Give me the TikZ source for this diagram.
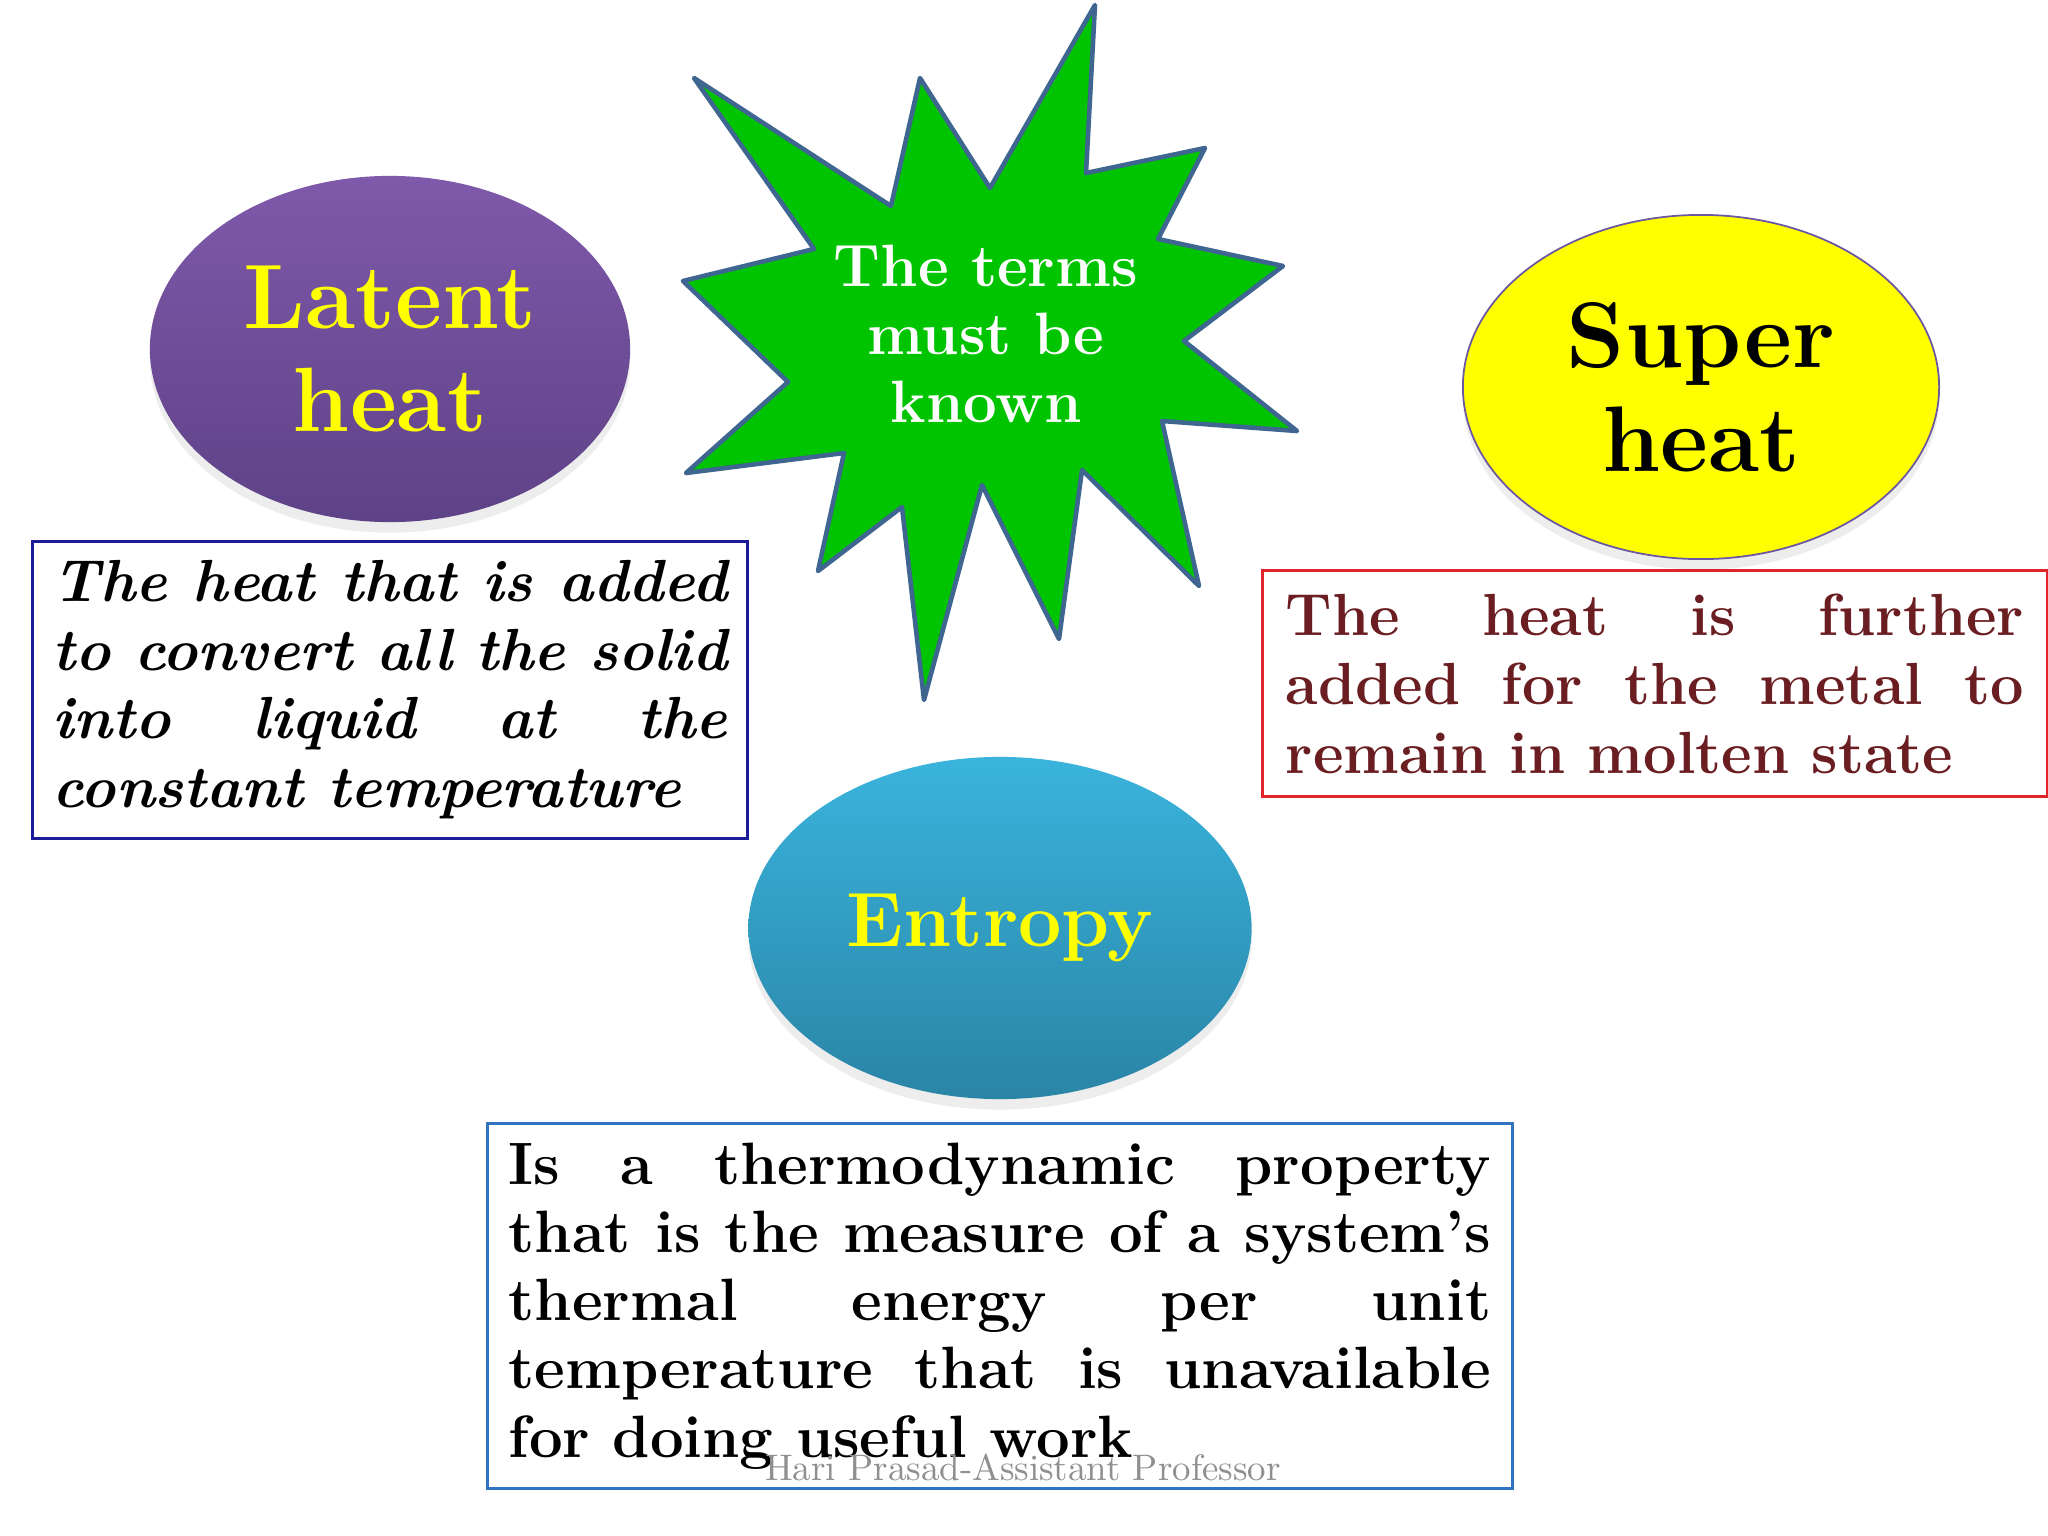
\documentclass[tikz,border=0pt]{standalone}
\usetikzlibrary{positioning,shapes.geometric,shadows}

\definecolor{burstgreen}{HTML}{00C400}
\definecolor{burstedge}{HTML}{3E6690}
\definecolor{latenttop}{HTML}{7F59AA}
\definecolor{latentbottom}{HTML}{5E4287}
\definecolor{entropytop}{HTML}{3AB4DD}
\definecolor{entropybottom}{HTML}{2A84A6}
\definecolor{titleyellow}{HTML}{FFFF00}
\definecolor{superedge}{HTML}{6C58A0}
\definecolor{latentline}{HTML}{1C1C96}
\definecolor{superline}{HTML}{E2232A}
\definecolor{entropyline}{HTML}{2F74C0}
\definecolor{defbrown}{HTML}{6B1E22}
\definecolor{footergray}{HTML}{8F8F8F}
\hbadness=10000

\begin{document}
\begin{tikzpicture}[x=0.01cm,y=-0.01cm,
    bubble/.style={ellipse,inner sep=0pt,align=center,
      drop shadow={shadow xshift=0pt,shadow yshift=-3pt,opacity=0.14}},
    defbox/.style={draw,line width=0.8pt,inner xsep=0.2cm,inner ysep=0pt,align=justify},
    burst/.style={fill=burstgreen,draw=burstedge,line width=1.3pt,line join=round}]
   \path[use as bounding box,fill=white] (0,0) rectangle (2048,1536);

   \draw[burst] (1095,5) -- (1086,173) -- (1205,148) -- (1158,239) -- (1283,266)
      -- (1184,341) -- (1297,431) -- (1162,421) -- (1199,586) -- (1082,470)
      -- (1059,639) -- (982,485) -- (924,700) -- (902,507) -- (818,571)
      -- (844,453) -- (686,473) -- (788,382) -- (683,281) -- (814,249)
      -- (694,78) -- (891,206) -- (920,78) -- (990,188) -- cycle;
   \node[text=white,align=center,font=\fontsize{17}{19.4}\selectfont\bfseries] (terms) at (986,334) {The terms\\must be\\known};

   \node[bubble,top color=latenttop,bottom color=latentbottom,minimum width=4.8cm,minimum height=3.46cm,
      text=titleyellow,font=\fontsize{26}{29.5}\selectfont\bfseries] (latent) at (390,349) {Latent\\heat};
   \node[bubble,fill=titleyellow,draw=superedge,line width=0.5pt,minimum width=4.76cm,minimum height=3.44cm,
      font=\fontsize{26.5}{29.5}\selectfont\bfseries] (superh) at (1701,387) {Super\\heat};
   \node[bubble,top color=entropytop,bottom color=entropybottom,minimum width=5.03cm,minimum height=3.42cm,
      text=titleyellow,font=\fontsize{21.9}{25}\selectfont\bfseries] (entropy) at (1000,928) {Entropy};

   \node[defbox,draw=latentline,minimum width=7.15cm,minimum height=2.97cm,text width=6.74cm,
      font=\fontsize{16.9}{19.5}\selectfont\bfseries\itshape,below=0.17cm of latent] (latentdef)
      {The heat that is added\linebreak to convert all the solid\linebreak into liquid at the\linebreak constant temperature};
   \node[defbox,draw=superline,text=defbrown,minimum width=7.84cm,minimum height=2.26cm,text width=7.38cm,
      font=\fontsize{16.9}{19.6}\selectfont\bfseries,below=0.09cm of superh,xshift=-0.46cm] (superdef)
      {The heat is further\linebreak added for the metal to\linebreak remain in molten state};
   \node[defbox,draw=entropyline,minimum width=10.24cm,minimum height=3.65cm,text width=9.82cm,
      font=\fontsize{17}{19.4}\selectfont\bfseries,below=0.22cm of entropy] (entropydef)
      {Is a thermodynamic property\linebreak that is the measure of a system’s\linebreak thermal energy per unit\linebreak temperature that is unavailable\linebreak for doing useful work};

   \node[text=footergray,font=\fontsize{10.5}{12}\selectfont] (footer) at (1023,1467) {Hari Prasad-Assistant Professor};
\end{tikzpicture}
\end{document}
